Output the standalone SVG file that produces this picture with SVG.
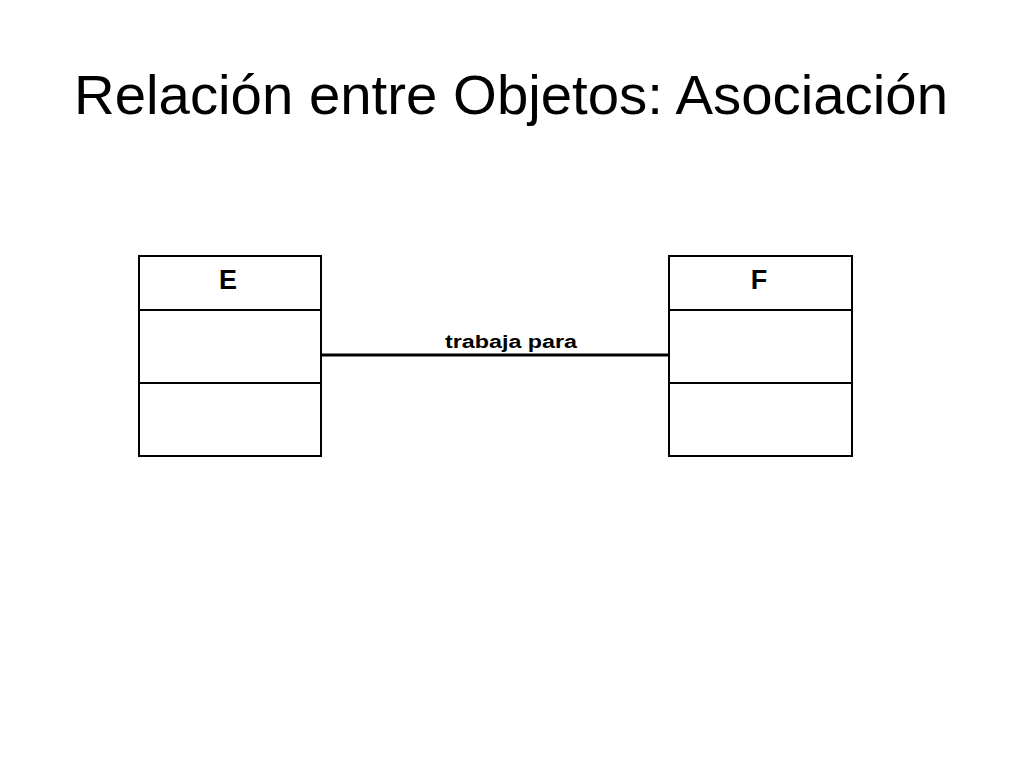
<svg xmlns="http://www.w3.org/2000/svg" width="1024" height="768" viewBox="0 0 1024 768">
<style>
.box{fill:#fff;stroke:#000;stroke-width:2}
.div{stroke:#000;stroke-width:2}
.name{font-family:"Liberation Sans",Arial,sans-serif;font-weight:bold;font-size:27px;text-anchor:middle}
.lbl{font-family:"Liberation Sans",Arial,sans-serif;font-weight:bold;font-size:18px}
</style>
<rect width="1024" height="768" fill="#fff"/>
<text x="74" y="114" font-family="'Liberation Sans',Arial,sans-serif" font-size="56" textLength="874" lengthAdjust="spacingAndGlyphs">Relación entre Objetos: Asociación</text>
<g id="connectors">
<line x1="321" y1="355" x2="669" y2="355" stroke="#000" stroke-width="3"/>
<text class="lbl" x="445" y="348" textLength="132" lengthAdjust="spacingAndGlyphs">trabaja para</text>
</g>
<g id="node-E">
<rect class="box" x="139" y="256" width="182" height="200"/>
<line class="div" x1="139" y1="310" x2="321" y2="310"/>
<line class="div" x1="139" y1="383" x2="321" y2="383"/>
<text class="name" x="228" y="289">E</text>
</g>
<g id="node-F">
<rect class="box" x="669" y="256" width="183" height="200"/>
<line class="div" x1="669" y1="310" x2="852" y2="310"/>
<line class="div" x1="669" y1="383" x2="852" y2="383"/>
<text class="name" x="759" y="289">F</text>
</g>
</svg>
